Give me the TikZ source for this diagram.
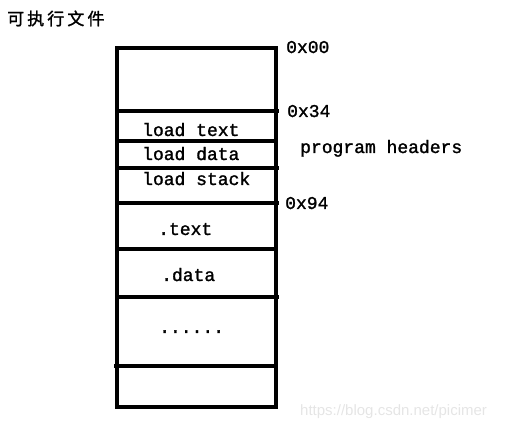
\documentclass[tikz,border=0pt]{standalone}
\usepackage{fontspec}
\usepackage{tikz}
\usetikzlibrary{positioning}
\newfontfamily\monofnt[FakeBold=1.5]{Liberation Mono}
\newfontfamily\cjk[LetterSpace=18,FakeBold=1.5]{Noto Sans CJK SC}
\newfontfamily\wmfont{Liberation Sans}

\begin{document}
\begin{tikzpicture}[x=1pt,y=1pt,
  seg/.style={draw,line width=3.2pt,minimum width=159pt,outer sep=0pt,inner sep=0pt},
  lbl/.style={font=\monofnt\fontsize{18}{18}\selectfont,inner sep=0pt,anchor=base west}]
\useasboundingbox (0,0) rectangle (507,430);
\node[font=\cjk\fontsize{17}{17}\selectfont,inner sep=0pt,anchor=base west] (title) at (7,405) {可执行文件};
% the segments of the file
\node[seg,minimum height=63pt,anchor=north west] (s0) at (117,382) {};
\node[seg,minimum height=30pt,below=0pt of s0] (s1) {};
\node[seg,minimum height=27pt,below=0pt of s1] (s2) {};
\node[seg,minimum height=35pt,below=0pt of s2] (s3) {};
\node[seg,minimum height=46pt,below=0pt of s3] (s4) {};
\node[seg,minimum height=48pt,below=0pt of s4] (s5) {};
\node[seg,minimum height=69pt,below=0pt of s5] (s6) {};
\node[seg,minimum height=41pt,below=0pt of s6] (s7) {};
\foreach \s in {s1,s3,s4,s6}{\draw[line width=3.2pt] (\s.north east)--++(3,0);}
\draw[line width=3.2pt] (s7.north west)--++(-3,0);
% texts inside
\node[lbl] (ldtext) at (142,294) {load text};
\node[lbl] (lddata) at (142,270) {load data};
\node[lbl] (ldstack) at (142,245) {load stack};
\node[lbl] (sectext) at (158,195) {.text};
\node[lbl] (secdata) at (161,149) {.data};
\node[lbl] (dots) at (159,97) {......};
% addresses
\node[lbl] (a00) at (286,377) {0x00};
\node[lbl] (a34) at (287,313) {0x34};
\node[lbl] (a94) at (285,221) {0x94};
\node[lbl] (phdr) at (300,277) {program headers};
\node[font=\wmfont\fontsize{15}{15}\selectfont,text=black!10,inner sep=0pt,anchor=base west] (wm) at (300,14) {https://blog.csdn.net/picimer};
\end{tikzpicture}
\end{document}
